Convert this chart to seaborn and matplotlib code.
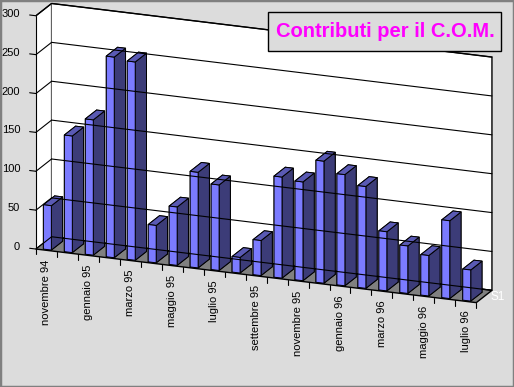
import numpy as np
import matplotlib
matplotlib.use("Agg")
import matplotlib.pyplot as plt
from matplotlib.patches import Rectangle
from mpl_toolkits.mplot3d import proj3d
import seaborn as sns

# monthly contributions, nov 94 .. jul 96
months = ["novembre 94", "dicembre 94", "gennaio 95", "febbraio 95", "marzo 95",
          "aprile 95", "maggio 95", "giugno 95", "luglio 95", "agosto 95",
          "settembre 95", "ottobre 95", "novembre 95", "dicembre 95", "gennaio 96",
          "febbraio 96", "marzo 96", "aprile 96", "maggio 96", "giugno 96", "luglio 96"]
values = [57, 150, 174, 258, 255, 48, 75, 123, 110, 20, 45,
          130, 127, 157, 143, 131, 76, 61, 52, 100, 40]
z_ticks = [0, 50, 100, 150, 200, 250, 300]
series_name = "S1"
title = "Contributi per il C.O.M."

sns.set_theme(style="white")
plt.rcParams['font.family'] = ['Liberation Sans', 'DejaVu Sans']

W, H = 514, 387
fig = plt.figure(figsize=(W / 100, H / 100), dpi=100, facecolor='#dcdcdc')
# square 3d axes covering the whole figure width (no clipping of the bars)
cx, cy = 257 / W, 1 - 160 / H
ax = fig.add_axes([cx - 0.5, cy - 0.5 * W / H, 1.0, W / H], projection='3d')
ax.set_facecolor('none')
ax.set_proj_type('ortho')
ax.view_init(elev=18, azim=-68.5)
ax.set_box_aspect((4.65, 0.42, 2.41), zoom=1.01)

n = len(values)
x0, x1 = -0.5, n - 0.5
ax.set_xlim(x0, x1)
ax.set_ylim(0, 1)
ax.set_zlim(0, 300)

front, top, side = sns.color_palette(['#7b7bff', '#5a5ab4', '#3c3c78'])
# face order in bar3d: bottom, top, front(-y), back(+y), left(-x), right(+x)
face_colors = [side, top, front, side, side, side] * n
ax.bar3d(np.arange(n) - 0.19, np.full(n, 0.06), np.zeros(n),
         0.38, 0.72, values, color=face_colors, shade=False,
         edgecolor='black', linewidth=0.7)

# walls
ax.xaxis.set_pane_color('white')
ax.yaxis.set_pane_color('white')
ax.zaxis.set_pane_color('#808080')
for a in (ax.xaxis, ax.yaxis, ax.zaxis):
    a.pane.set_edgecolor('black')
    a.line.set_color('none')
ax.set_xticks([])
ax.set_yticks([])
ax.set_zticks([])
ax.grid(False)

# gridlines and value axis line
for v in z_ticks:
    ax.plot([x0, x1], [1, 1], [v, v], color='black', lw=0.8)
    ax.plot([x0, x0], [0, 1], [v, v], color='black', lw=0.8)
    ax.plot([x0 - 0.3, x0], [0, 0], [v, v], color='black', lw=0.8)
ax.plot([x0, x0], [0, 0], [0, 300], color='black', lw=0.8)
for b in np.arange(n + 1) - 0.5:
    ax.plot([b, b], [0, 0], [0, -7], color='black', lw=0.8)

# labels: project the 3d anchor points to figure coords, then place plain texts
fig.canvas.draw()
M = ax.get_proj()


def to_fig(x, y, z):
    px, py, _ = proj3d.proj_transform(x, y, z, M)
    return fig.transFigure.inverted().transform(ax.transData.transform((px, py)))


for v in z_ticks:
    fx, fy = to_fig(x0 - 0.75, 0, v)
    fig.text(fx, fy, str(v), ha='right', va='center', fontsize=8, color='black')
for i in range(0, n, 2):
    fx, fy = to_fig(i, 0, -12)
    fig.text(fx, fy, months[i], rotation=90, ha='center', va='top', fontsize=8, color='black')
fx, fy = to_fig(x1 + 0.3, 0.5, 0)
fig.text(fx, fy, series_name, ha='left', va='center', fontsize=8.5, color='white')

# title box
fig.patches.append(Rectangle((268 / W, 1 - 51 / H), 233 / W, 39 / H, transform=fig.transFigure,
                             facecolor='#dcdcdc', edgecolor='black', lw=1, zorder=5))
fig.text(385 / W, 1 - 31.5 / H, title, ha='center', va='center', fontsize=14.5,
         fontweight='bold', color='#ff00ff', zorder=6)
fig.patches.append(Rectangle((0, 0), 1, 1, transform=fig.transFigure, fill=False,
                             edgecolor='#808080', lw=2.5, zorder=10))

fig.savefig('out.png', dpi=100, facecolor=fig.get_facecolor())
